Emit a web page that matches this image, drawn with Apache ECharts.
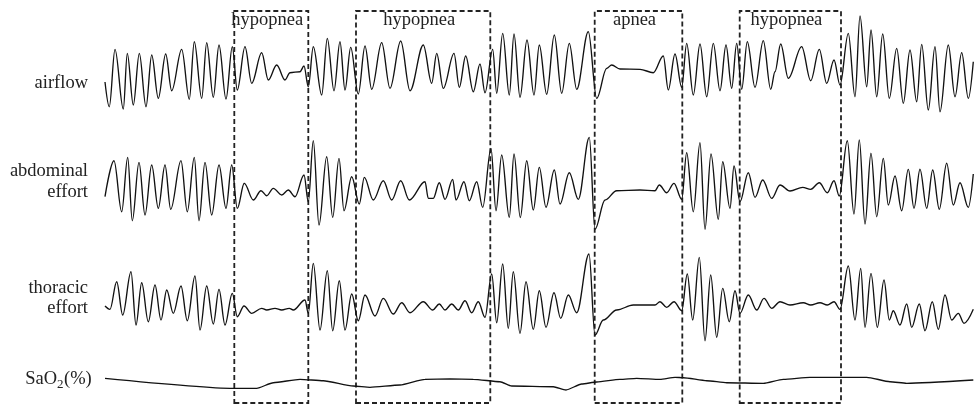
<!DOCTYPE html>
<html>
<head>
<meta charset="utf-8">
<script src="https://cdn.jsdelivr.net/npm/echarts@6/dist/echarts.min.js"></script>
<style>html,body{margin:0;padding:0;background:#fff}#c{width:974px;height:404px}</style>
</head>
<body>
<div id="c"></div>
<script>
// time (t) vs. trace amplitude (arbitrary units) read from the recording
const airflow = [
[105,38],[109.3,13.3],[115,70.7],[123.3,11],[127.3,66.7],[133.3,15],[139.3,66.7],[146,13.3],[151.7,65],[158.3,21.7],
[165.7,66],[171.7,29.3],[181.7,70.7],[189.3,20.7],[194.3,78.3],[201.7,21.7],[206.7,77.3],[213.3,22.7],[219,75],[226,21],
[232.3,73.3],[237.3,30],[245,73.3],[251.7,36.7],[261.7,67.3],[268.3,40],[276.7,55],[285,40],[290,47.3],[300,48.3],
[304,54],[308.3,33.3],[313.3,73.3],[321.7,25],[327.3,81.7],[334,29.3],[340,78.3],[345,30],[350.7,72.7],[358.3,26],
[365,74],[371.7,30.7],[381.7,77.3],[390,31.7],[400.7,79],[410,29.3],[423.3,75],[431.7,36.7],[436.7,66.7],[443.3,31.7],
[454,66.7],[459.3,32.7],[465.7,64],[473.3,28.3],[480,56],[485,27.3],[492.7,70.7],[496.7,26.7],[502.7,86.7],[509.3,25],
[514,86],[520,22.7],[527,80],[534,25],[539.3,75],[546.7,25.7],[554.3,85],[561.7,26.7],[569.3,76.7],[576.7,30.7],
[588.3,88.3],[596.7,21.7],[606.7,51.7],[611.7,55],[620,51],[640,50.7],[653.3,47.3],[663.3,64],[668.3,30],[675,66],
[681.7,32.7],[686.7,76.7],[693.3,25],[700,76],[706.7,23.3],[713.3,76.7],[720,29.3],[726,75],[731.7,31.7],[736.7,76.7],
[741.7,30.7],[747.3,78.3],[755,32.7],[763.3,79.3],[770.7,30.7],[775,48.3],[780.7,76],[788.3,41.7],[801.7,73.3],[810.7,39.3],
[819.3,70.7],[826.7,36.7],[834,60],[840,35],[848.3,86.7],[855,23.3],[860,104],[866.7,33.3],[871,90],[876.7,23.3],
[882.7,86],[889.3,21.7],[896.7,71.7],[903.3,16.7],[910,70],[916.7,18.3],[921.7,75.7],[928.3,10],[935,73.3],[940,8.3],
[948.3,75],[955,23.3],[961.7,67.3],[968.3,21.7],[973.3,58.3]
];
const abdominalEffort = [
[105,43.3],[114,79.3],[121.7,28.3],[127.7,82.7],[132.3,19.3],[139,77.7],[145,25],[151.7,75],[158.3,31.7],[165,75],
[170.7,30.7],[181,79.3],[187.3,28.3],[194.3,82.7],[199,19.3],[205,77.7],[211.7,25],[219,75],[226,31.7],[231.7,75],
[237.3,31.7],[244.3,56.7],[253.3,40],[261,49.3],[266.7,44.3],[273.3,51.7],[281.7,45],[288.3,50],[295,43.3],[304,65],
[308.3,38.3],[313.3,99.3],[319,15],[326.7,83.3],[332.7,22.7],[339,81.7],[344,29.3],[351.7,63.3],[359.3,36],[364.3,62.7],
[373.3,40],[383.3,59.3],[391.7,40],[400.7,59.3],[409.3,40],[425,58.3],[428.3,41.7],[433.3,41.7],[439.3,57.3],[445,40.7],
[452.7,60.7],[456,40],[464,58.3],[469.3,39.3],[476.7,58.3],[482.7,32.7],[491,91.7],[496,29.3],[501.7,85],[509.3,22.7],
[514,86],[520.3,22.5],[526.7,79.3],[533.3,30],[539.3,72.7],[546,32.7],[554.3,70],[560,36],[569.3,67.3],[578.3,40.7],
[589.3,102.7],[595,10.7],[605,40],[616.7,49.3],[640,50],[655,49.3],[659.3,55],[666.7,47.3],[674,56.7],[681.7,40.7],
[686.7,87.3],[693.3,28.3],[700,97.3],[705,10.7],[711,86],[718.3,20.7],[722.7,78.3],[730,31.7],[734,74],[740,38.3],
[748.3,67.3],[755,42.7],[762.7,60],[771.7,41.7],[780,55],[790,49],[802.7,52.7],[810.7,50.7],[819.3,57.3],[827.3,47.3],
[834,59.3],[839.3,44],[847.3,99.3],[854,26],[859.3,100],[865,16],[871,86.7],[876.7,23.3],[883.3,81.7],[888.3,35],
[895,64],[901.7,29.3],[908.3,70.7],[914,31.7],[920,70.7],[926.7,31.7],[932.7,70],[939.3,30.7],[946.7,76.7],[953.3,35],
[960,57.3],[968.3,32.7],[973.3,66]
];
const thoracicEffort = [
[105,44],[110,40.7],[116.7,68.3],[122.7,35],[131,78.3],[136,25],[141.7,67.3],[148.3,28.3],[155,65],[161,30],
[166.7,60],[173.3,36.7],[181,64],[187.3,29.3],[195,74],[200,20],[206.7,64],[213.3,26],[219,60.7],[225,25],
[232.3,56.7],[237.3,33.3],[244,44],[251.7,36.7],[261.7,41.7],[266.7,40],[275,41.7],[281.7,40],[289.3,41.7],[293.3,40],
[305,50],[308.3,36.7],[313.3,86.7],[320,20],[327.3,79.3],[332.7,19.3],[339.3,69.3],[345,20],[351.7,56],[358.3,29.3],
[365,55],[375,34],[383.3,51.7],[393.3,36],[401.7,47.3],[410,37.3],[423.3,48.3],[432.7,40],[439.3,46],[445,40],
[451.7,46],[458.3,40],[465,49.3],[471.7,37.3],[478.3,48.3],[485,32.7],[491.7,76],[496.7,27.3],[502.7,86],[508.3,21.7],
[513.3,78.3],[520,16.7],[526,68.3],[533.3,20.7],[539.3,59.3],[546,22.7],[554,57.3],[560.7,31.7],[568.3,55],[576.7,37.3],
[589,96],[595,15],[603.3,30],[616.7,40],[633.3,45],[655,45],[660,48.3],[666.7,42.7],[674,48.3],[681.7,39.3],
[687.3,76],[692.7,30],[699.3,92.7],[705,9.3],[710.7,75],[716.7,12.7],[722.7,61.7],[729.3,28.3],[735,59.3],[740,36.7],
[748.3,55],[756.7,40],[764,51.7],[771.7,41.7],[780,48.3],[790,45],[803.3,47.3],[810.7,45],[820,47.3],[827.3,45],
[834,48.3],[840,40.7],[848.3,84],[855,30],[860.7,81.7],[865,22.7],[871,76.7],[877.3,22.7],[884,70],[889.3,30],
[893.3,39.3],[900,25],[906.7,46],[911.7,22.7],[919.3,46],[925,19.3],[932.3,48.3],[938.3,20.7],[945,55],[951.7,30],
[958.3,36.7],[964,26.7],[973.3,40.7]
];
const sao2 = [
[105,21.7],[233.3,11.7],[256.7,11.7],[273.3,17.3],[300,20.7],[323.3,19.3],[353.3,14],[370,12.7],[400,15],[425,20.7],
[450,21],[473.3,20.7],[500,18.3],[511.7,14],[553.3,13.3],[566,10],[581.7,16],[596.7,18],[620,20.7],[636.7,21.7],
[660,20.7],[675,22.7],[683.3,22.3],[706.7,19.3],[726.7,17.3],[763.3,16.7],[783.3,20.7],[810,22.7],[866.7,22.7],[890,18.3],
[906.7,16.7],[973.3,20]
];
const eventNames = ['hypopnea','hypopnea','apnea','hypopnea'];
const eventStart = [234.3, 356, 594.7, 739.7];
const eventEnd   = [308.3, 490.3, 682.3, 841];
const channelLabels = ['airflow', 'abdominal', 'effort', 'thoracic', 'effort'];

const FONT = "'Liberation Serif','Times New Roman',serif";
const T0 = 104, T1 = 974;
const bands = [ // grid top / height / y-range
  {top:10, height:110, max:110},
  {top:130, height:110, max:110},
  {top:240, height:110, max:110},
  {top:360, height:40, max:40}
];
const grids = bands.map(b => ({left:T0, right:0, top:b.top, height:b.height, containLabel:false}));
grids.push({left:T0, right:0, top:11, bottom:1});
const xAxes = grids.map((g,i) => ({type:'value', gridIndex:i, min:T0, max:T1, show:false}));
const yAxes = bands.map((b,i) => ({type:'value', gridIndex:i, min:0, max:b.max, show:false}));
yAxes.push({type:'value', gridIndex:4, min:0, max:1, show:false});

const traceStyle = {color:'#111', width:1.35};
function trace(data, i, smooth){
  return {type:'line', xAxisIndex:i, yAxisIndex:i, data:data, showSymbol:false, symbol:'none',
    smooth:smooth, smoothMonotone:'x', lineStyle:traceStyle, silent:true};
}
const series = [
  trace(airflow,0,0.35), trace(abdominalEffort,1,0.35), trace(thoracicEffort,2,0.35), trace(sao2,3,0.2),
  {type:'line', xAxisIndex:4, yAxisIndex:4, data:[], silent:true,
   markArea:{silent:true,
     itemStyle:{color:'rgba(0,0,0,0)', borderColor:'#222', borderWidth:1.8, borderType:[5,3]},
     label:{show:true, position:'insideTop', distance:0, offset:[-4,1], fontFamily:FONT, fontSize:18.5, color:'#222'},
     data: eventNames.map((n,k) => [{name:n, xAxis:eventStart[k]}, {xAxis:eventEnd[k]}])
   }}
];

const labelY = [83, 171, 192, 288, 308];
const graphic = channelLabels.map((t,k) => ({type:'text', x:88, y:labelY[k],
  style:{text:t, font:'18.5px ' + FONT, fill:'#222', textAlign:'right', textVerticalAlign:'middle'}}));
graphic.push({type:'text', x:57, y:379, style:{text:'SaO', font:'18.5px '+FONT, fill:'#222', textAlign:'right', textVerticalAlign:'middle'}});
graphic.push({type:'text', x:57, y:385, style:{text:'2', font:'13px '+FONT, fill:'#222', textAlign:'left', textVerticalAlign:'middle'}});
graphic.push({type:'text', x:64, y:379, style:{text:'(%)', font:'18.5px '+FONT, fill:'#222', textAlign:'left', textVerticalAlign:'middle'}});

const chart = echarts.init(document.getElementById('c'), null, {renderer:'canvas'});
chart.setOption({animation:false, grid:grids, xAxis:xAxes, yAxis:yAxes, series:series, graphic:graphic});
</script>
</body>
</html>
